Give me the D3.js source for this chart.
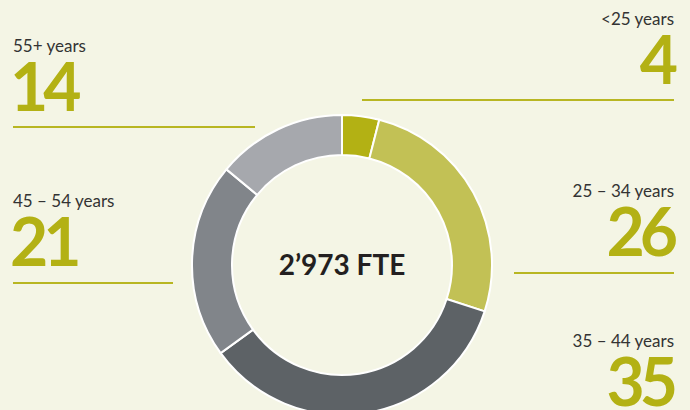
<!DOCTYPE html>
<html>
<head>
<meta charset="utf-8">
<script src="https://cdn.jsdelivr.net/npm/d3@7"></script>
<style>
  body { margin: 0; background: #f4f5e5; }
  svg { display: block; }
</style>
</head>
<body>
<svg id="chart" width="690" height="410"></svg>
<script>
const categories = ["<25 years", "25 \u2013 34 years", "35 \u2013 44 years", "45 \u2013 54 years", "55+ years"];
const values = [4, 26, 35, 21, 14];
const colors = ["#b3b114", "#c2c155", "#5d6266", "#81858a", "#a6a8ad"];
const centerLabel = "2\u2019973 FTE";

// label blocks: x, anchor, label baseline, rule y, rule x-range
const blocks = [
  { x: 674, anchor: "end", y: 25, ruleY: 100, rule: [362, 674] },
  { x: 674, anchor: "end", y: 197, ruleY: 273, rule: [514, 674] },
  { x: 674, anchor: "end", y: 347, ruleY: null, rule: null },
  { x: 13, anchor: "start", y: 207, ruleY: 283, rule: [13, 173] },
  { x: 13, anchor: "start", y: 52, ruleY: 127, rule: [13, 255] }
];

const svg = d3.select("#chart");
const cx = 342, cy = 265;
const outer = 150, inner = 110;

const pie = d3.pie().sort(null).value((d) => d);
const arc = d3.arc().innerRadius(inner).outerRadius(outer);

const g = svg.append("g").attr("transform", `translate(${cx},${cy})`);

g.selectAll("path")
  .data(pie(values))
  .enter()
  .append("path")
  .attr("d", arc)
  .attr("fill", (d, i) => colors[i])
  .attr("stroke", "#ffffff")
  .attr("stroke-width", 2);

g.append("text")
  .attr("text-anchor", "middle")
  .attr("dy", "0.36em")
  .attr("font-family", "Lato, sans-serif")
  .attr("font-weight", 700)
  .attr("font-size", 28)
  .attr("fill", "#231f20")
  .text(centerLabel);

blocks.forEach((b, i) => {
  svg.append("text")
    .attr("x", b.x)
    .attr("y", b.y)
    .attr("text-anchor", b.anchor)
    .attr("font-family", "Lato, sans-serif")
    .attr("font-size", 17)
    .attr("fill", "#333333")
    .text(categories[i]);

  svg.append("text")
    .attr("x", b.anchor === "end" ? b.x - 1 : b.x - 3)
    .attr("y", b.y + 59)
    .attr("text-anchor", b.anchor)
    .attr("font-family", "Lato, sans-serif")
    .attr("font-weight", 700)
    .attr("font-size", 66)
    .attr("letter-spacing", -5)
    .attr("fill", "#b3b114")
    .text(values[i]);

  if (b.rule) {
    svg.append("line")
      .attr("x1", b.rule[0])
      .attr("x2", b.rule[1])
      .attr("y1", b.ruleY)
      .attr("y2", b.ruleY)
      .attr("stroke", "#b8b622")
      .attr("stroke-width", 2);
  }
});
</script>
</body>
</html>
